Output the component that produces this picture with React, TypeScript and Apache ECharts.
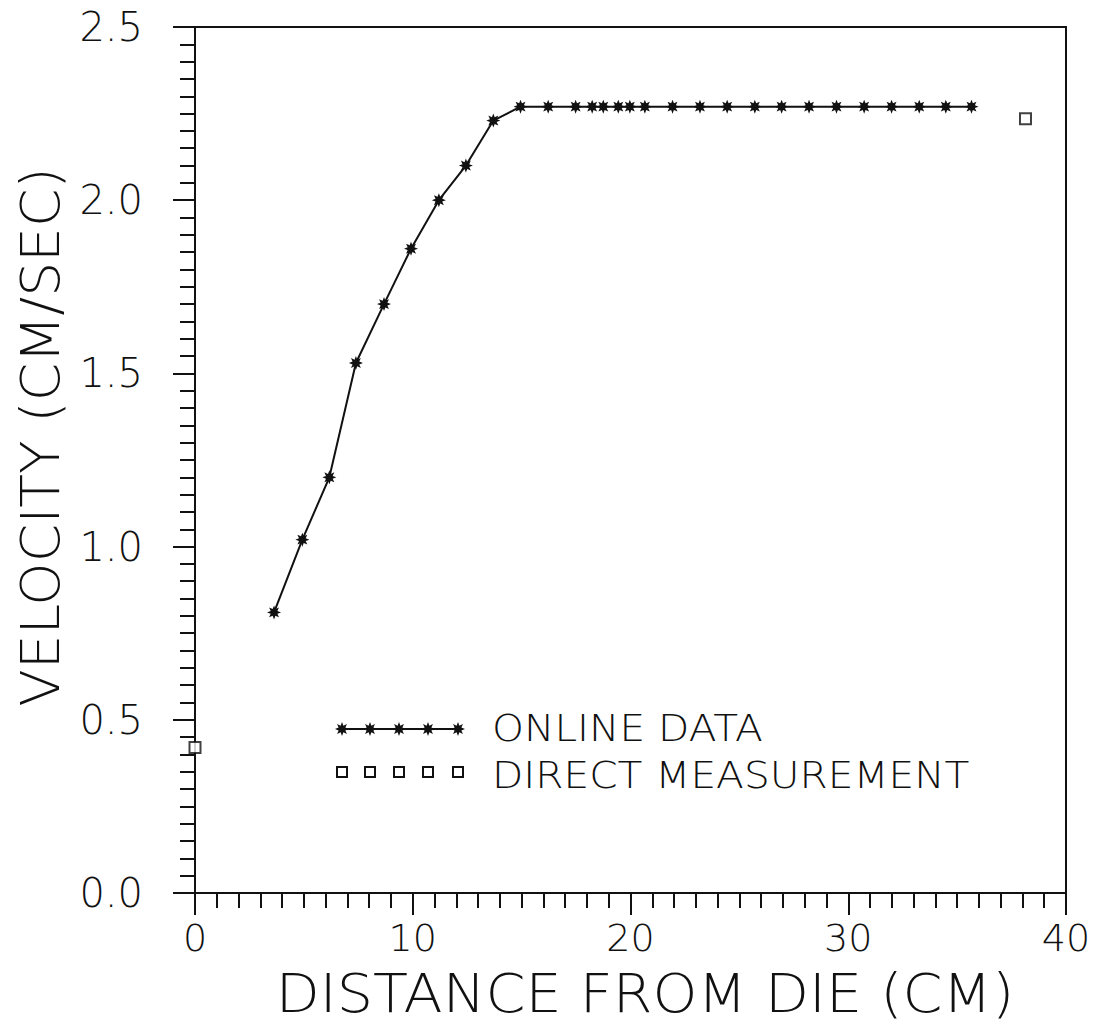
import React, { useEffect, useRef } from "react";
import * as echarts from "echarts";

const onlineX = [3.63, 4.93, 6.17, 7.39, 8.68, 9.92, 11.2, 12.44, 13.7, 14.95, 16.22, 17.48, 18.24, 18.75, 19.44, 19.97, 20.66, 21.93, 23.19, 24.44, 25.71, 26.94, 28.2, 29.46, 30.73, 31.99, 33.26, 34.48, 35.66];
const onlineY = [0.81, 1.02, 1.2, 1.53, 1.7, 1.86, 2.0, 2.1, 2.23, 2.27, 2.27, 2.27, 2.27, 2.27, 2.27, 2.27, 2.27, 2.27, 2.27, 2.27, 2.27, 2.27, 2.27, 2.27, 2.27, 2.27, 2.27, 2.27, 2.27];
const directX = [0.0, 38.14];
const directY = [0.42, 2.235];
const xTicks = ["0", "10", "20", "30", "40"];
const seriesNames = ["ONLINE DATA", "DIRECT MEASUREMENT"];
const xTitle = "DISTANCE FROM DIE (CM)";
const yTitle = "VELOCITY (CM/SEC)";

const FONT = "'DejaVu Sans', 'Liberation Sans', sans-serif";

function starPath(): string {
  const pts: string[] = [];
  const n = 8;
  for (let i = 0; i < n * 2; i++) {
    const r = i % 2 === 0 ? 10 : 5.2;
    const a = (Math.PI * i) / n - Math.PI / 2;
    pts.push(`${(10 + r * Math.cos(a)).toFixed(2)} ${(10 + r * Math.sin(a)).toFixed(2)}`);
  }
  return "path://M" + pts.join(" L") + " Z";
}

function starPolygon(cx: number, cy: number, R: number): number[][] {
  const pts: number[][] = [];
  const n = 8;
  for (let i = 0; i < n * 2; i++) {
    const r = i % 2 === 0 ? R : R * 0.52;
    const a = (Math.PI * i) / n - Math.PI / 2;
    pts.push([cx + r * Math.cos(a), cy + r * Math.sin(a)]);
  }
  return pts;
}

export default function App() {
  const ref = useRef<HTMLDivElement>(null);
  useEffect(() => {
    if (!ref.current) return;
    const chart = echarts.init(ref.current, undefined, { renderer: "svg" });
    const black = "#111";
    const legendXs = [342, 370, 399, 428, 458];
    const els: any[] = [];
    els.push({
      type: "polyline",
      shape: { points: [[342, 729], [458, 729]] },
      style: { stroke: black, lineWidth: 2, fill: null },
    });
    legendXs.forEach((lx) => {
      els.push({ type: "polygon", shape: { points: starPolygon(lx, 729, 7) }, style: { fill: black } });
      els.push({
        type: "rect",
        shape: { x: lx - 5, y: 767, width: 10, height: 10 },
        style: { fill: "#fff", stroke: black, lineWidth: 2 },
      });
    });
    els.push({
      type: "text",
      x: 492,
      y: 727,
      scaleX: 1.07,
      style: { text: seriesNames[0], fill: black, font: `200 38px ${FONT}`, lineHeight: 38, verticalAlign: "middle", align: "left" },
    });
    els.push({
      type: "text",
      x: 492,
      y: 774,
      scaleX: 1.07,
      style: { text: seriesNames[1], fill: black, font: `200 38px ${FONT}`, lineHeight: 38, verticalAlign: "middle", align: "left" },
    });
    els.push({
      type: "text",
      x: 645,
      y: 993,
      scaleX: 1.06,
      style: { text: xTitle, fill: black, font: `200 54px ${FONT}`, lineHeight: 54, verticalAlign: "middle", align: "center" },
    });
    els.push({
      type: "text",
      x: 40,
      y: 437,
      rotation: Math.PI / 2,
      scaleX: 1.02,
      style: { text: yTitle, fill: black, font: `200 54px ${FONT}`, lineHeight: 54, verticalAlign: "middle", align: "center" },
    });

    chart.setOption({
      animation: false,
      backgroundColor: "#fff",
      grid: { left: 195, right: 38, top: 27, bottom: 140, show: true, borderColor: black, borderWidth: 2, backgroundColor: "transparent" },
      xAxis: {
        type: "value",
        min: 0,
        max: 40,
        interval: 10,
        axisLine: { lineStyle: { color: black, width: 2 } },
        axisTick: { show: true, length: 22, lineStyle: { color: black, width: 2 } },
        minorTick: { show: true, splitNumber: 10, length: 15, lineStyle: { color: black, width: 2 } },
        splitLine: { show: false },
        axisLabel: {
          margin: 26,
          color: black,
          fontSize: 38,
          fontWeight: 200,
          lineHeight: 38,
          fontFamily: FONT,
          formatter: (v: number) => xTicks[Math.round(v / 10)] ?? String(v),
        },
      },
      yAxis: {
        type: "value",
        min: 0,
        max: 2.5,
        interval: 0.5,
        axisLine: { lineStyle: { color: black, width: 2 } },
        axisTick: { show: true, length: 22, lineStyle: { color: black, width: 2 } },
        minorTick: { show: true, splitNumber: 10, length: 15, lineStyle: { color: black, width: 2 } },
        splitLine: { show: false },
        axisLabel: {
          margin: 52,
          color: black,
          fontSize: 40,
          fontWeight: 200,
          fontFamily: FONT,
          formatter: (v: number) => v.toFixed(1),
        },
      },
      graphic: els,
      series: [
        {
          name: seriesNames[0],
          type: "line",
          data: onlineX.map((x, i) => [x, onlineY[i]]),
          symbol: starPath(),
          symbolSize: 14,
          lineStyle: { color: black, width: 2 },
          itemStyle: { color: black },
          clip: false,
        },
        {
          name: seriesNames[1],
          type: "scatter",
          data: directX.map((x, i) => [x, directY[i]]),
          symbol: "rect",
          symbolSize: 11,
          itemStyle: { color: "#fff", borderColor: black, borderWidth: 2 },
          clip: false,
        },
      ],
    });
    return () => chart.dispose();
  }, []);
  return <div ref={ref} style={{ width: 1104, height: 1033, position: "absolute", left: 0, top: 0 }} />;
}
